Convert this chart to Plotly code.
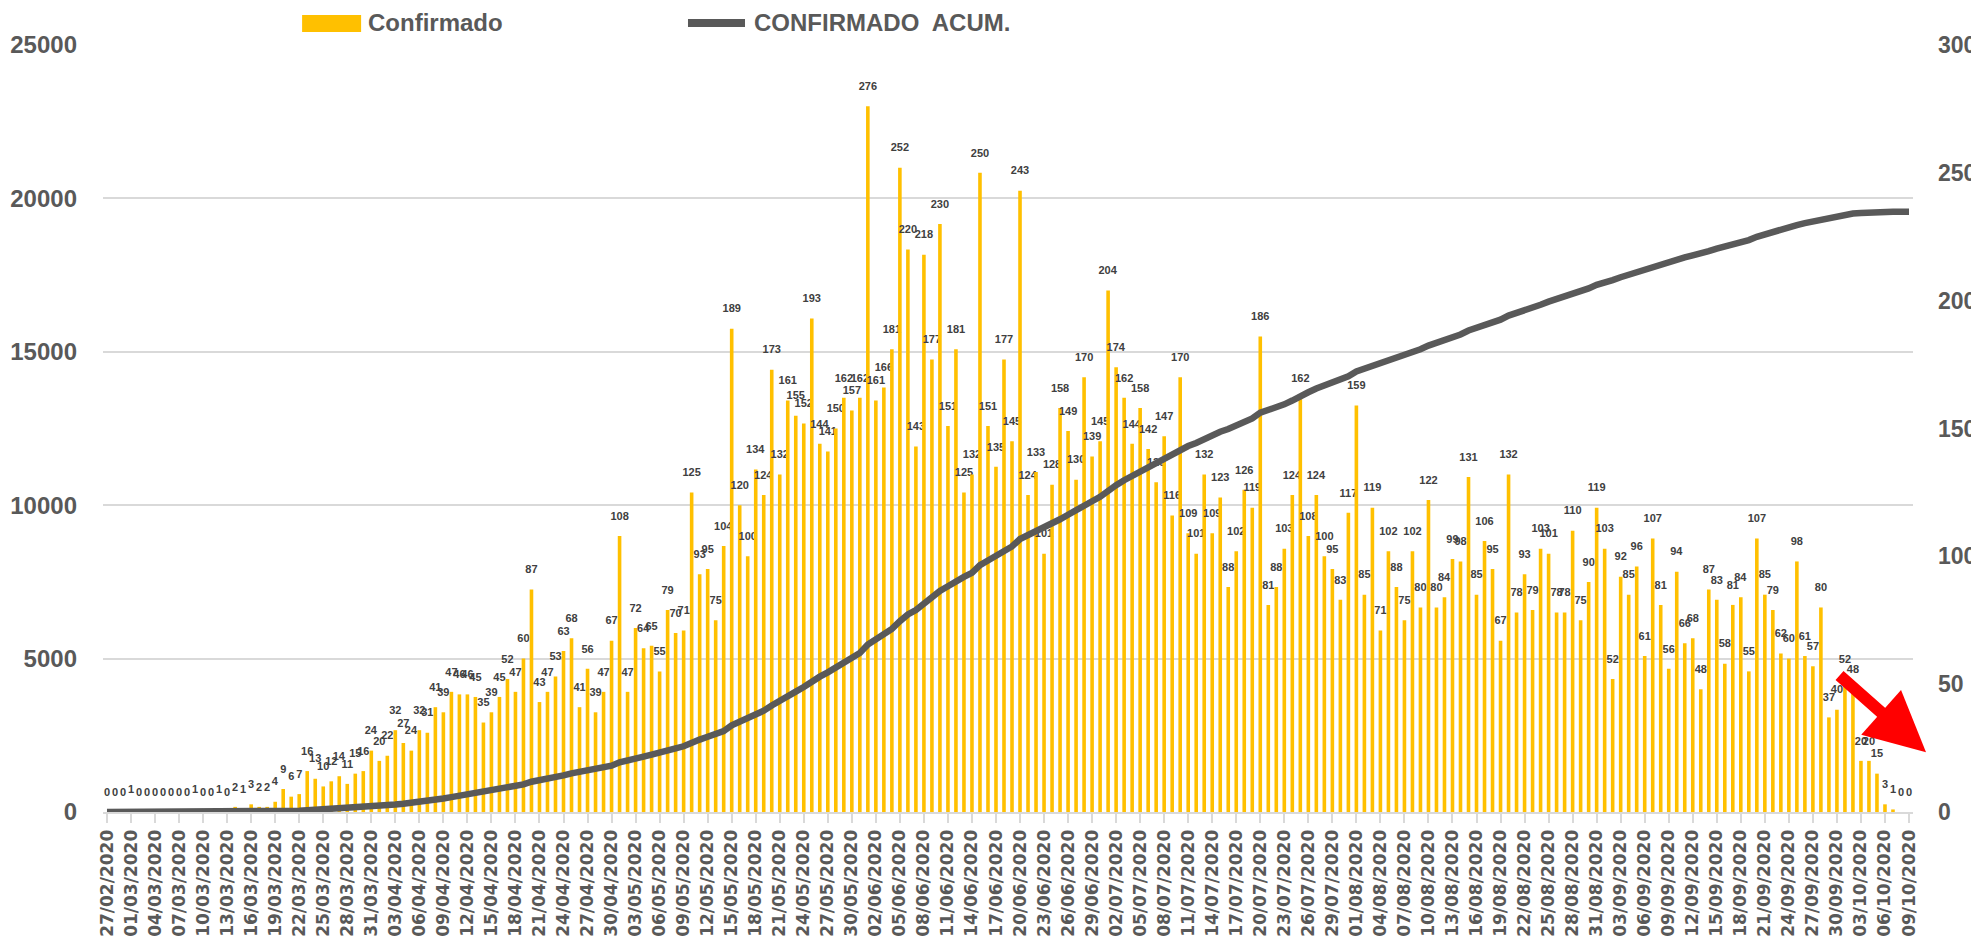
import numpy as np
import pandas as pd
import plotly.graph_objects as go

# ---- data ----
fechas = pd.date_range("2020-02-27", "2020-10-09", freq="D").strftime("%d/%m/%Y").tolist()

confirmado = [
    0, 0, 0, 1, 0, 0, 0, 0, 0, 0, 0, 1, 0, 0, 1, 0,
    2, 1, 3, 2, 2, 4, 9, 6, 7, 16, 13, 10, 12, 14, 11, 15, 16, 24, 20, 22, 32,
    27, 24, 32, 31, 41, 39, 47, 46, 46, 45, 35, 39, 45, 52, 47, 60, 87, 43, 47, 53,
    63, 68, 41, 56, 39, 47, 67, 108, 47, 72, 64, 65, 55, 79, 70, 71, 125, 93, 95, 75,
    104, 189, 120, 100, 134, 124, 173, 132, 161, 155, 152, 193, 144, 141, 150, 162,
    157, 162, 276, 161, 166, 181, 252, 220, 143, 218, 177, 230, 151, 181, 125, 132,
    250, 151, 135,
    177, 145, 243, 124, 133, 101, 128, 158, 149, 130, 170, 139, 145, 204, 174, 162,
    144, 158, 142, 129, 147, 116, 170, 109, 101, 132, 109, 123, 88, 102, 126, 119,
    186, 81, 88,
    103, 124, 162, 108, 124, 100, 95, 83, 117, 159, 85, 119, 71, 102, 88, 75, 102,
    80, 122, 80, 84, 99, 98, 131, 85, 106, 95, 67, 132, 78, 93, 79, 103, 101, 78,
    78, 110, 75, 90, 119,
    103, 52, 92, 85, 96, 61, 107, 81, 56, 94, 66, 68, 48, 87, 83, 58, 81, 84, 55,
    107, 85, 79, 62, 60, 98, 61, 57, 80, 37, 40, 52, 48, 20, 20, 15, 3, 1, 0, 0,
]

# accumulated confirmed cases (running total of the daily series)
acumulado = np.cumsum(confirmado).tolist()

tick_fechas = fechas[::3]
ticks_izq = [0, 5000, 10000, 15000, 20000, 25000]
ticks_der = [0, 50, 100, 150, 200, 250, 300]

GOLD = "#FFC000"
GREY = "#595959"
GRID = "#D9D9D9"

fig = go.Figure()
fig.add_trace(go.Bar(
    x=fechas, y=confirmado, name="Confirmado",
    marker=dict(color=GOLD, line=dict(width=0)),
    text=confirmado, texttemplate="%{text}<br>\u00a0",
    textposition="outside", constraintext="none",
    textfont=dict(family="Liberation Sans", size=11, color="#404040", weight="bold"),
    cliponaxis=False, yaxis="y", showlegend=False,
))
fig.add_trace(go.Scatter(
    x=fechas, y=acumulado, name="CONFIRMADO  ACUM.", mode="lines",
    line=dict(color=GREY, width=6.5), yaxis="y2", showlegend=False,
))

tickfont = dict(family="Liberation Sans", size=24, color=GREY, weight="bold")
tickfont_r = dict(family="Liberation Sans", size=23, color=GREY, weight="bold")
legfont = dict(family="Liberation Sans", size=24, color=GREY, weight="bold")

fig.update_layout(
    width=1971, height=938,
    margin=dict(l=95, r=66, t=37, b=134, autoexpand=False),
    paper_bgcolor="white", plot_bgcolor="white",
    bargap=0.55,
    xaxis=dict(
        type="category", range=[-0.5, len(fechas) - 0.5],
        tickmode="array", tickvals=tick_fechas, ticktext=tick_fechas,
        tickangle=-90, automargin=False,
        tickfont=dict(family="DejaVu Sans", size=17, color=GREY, weight="bold"),
        showline=True, linecolor=GRID, linewidth=2,
        ticks="outside", ticklen=9, tickcolor=GRID, tickwidth=2,
        showgrid=False,
    ),
    yaxis=dict(
        side="right", range=[0, 300], tickmode="array", tickvals=ticks_der,
        tickformat="d", automargin=False,
        showgrid=False, zeroline=False, tickfont=tickfont_r, ticklabelstandoff=24,
    ),
    yaxis2=dict(
        overlaying="y", side="left", range=[0, 25000], tickmode="array",
        tickvals=ticks_izq, tickformat="d", automargin=False,
        showgrid=True, gridcolor=GRID, gridwidth=2,
        zeroline=False, tickfont=tickfont, ticklabelstandoff=25,
    ),
    shapes=[
        dict(type="rect", xref="paper", yref="paper", x0=0.1100, x1=0.1426,
             y0=1.0169, y1=1.0391, fillcolor=GOLD, line=dict(width=0)),
        dict(type="line", xref="paper", yref="paper", x0=0.3232, x1=0.3547,
             y0=1.0287, y1=1.0287, line=dict(color=GREY, width=8)),
    ],
    annotations=[
        dict(text="Confirmado", xref="paper", yref="paper", x=0.1452, y=1.0287,
             xanchor="left", yanchor="middle", showarrow=False, font=legfont),
        dict(text="CONFIRMADO\u00a0 ACUM.", xref="paper", yref="paper", x=0.3586, y=1.0287,
             xanchor="left", yanchor="middle", showarrow=False, font=legfont),
        dict(text="", xref="paper", yref="paper", x=1.0072, y=0.078,
             axref="pixel", ayref="pixel", ax=-88, ay=-78,
             showarrow=True, arrowhead=2, arrowsize=1.0, arrowwidth=12,
             arrowcolor="#FF0000"),
    ],
)

fig.write_html("out.html")
